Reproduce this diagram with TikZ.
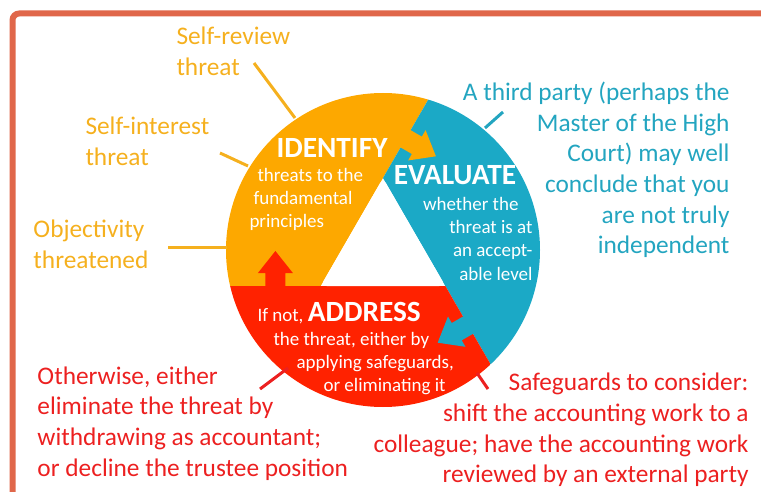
\documentclass[tikz,border=0pt]{standalone}
\usepackage{fontspec}
\setmainfont{Carlito}

\definecolor{framered}{RGB}{224,103,74}
\definecolor{idorange}{RGB}{253,168,0}
\definecolor{evblue}{RGB}{27,169,198}
\definecolor{adred}{RGB}{255,34,0}
\definecolor{idyellow}{RGB}{245,176,30}
\definecolor{evteal}{RGB}{35,165,192}
\definecolor{adcrimson}{RGB}{236,32,32}

\tikzset{every picture/.style={line width=0.75pt}}

\begin{document}
\begin{tikzpicture}[x=0.75pt,y=0.75pt,yscale=-1,xscale=1,
  outer/.style={inner sep=0pt, font=\fontsize{19}{23}\selectfont},
  body/.style={inner sep=0pt, text=white, font=\fontsize{14.25}{17.5}\selectfont},
  head/.style={inner sep=0pt, text=white, font=\fontsize{22}{26}\selectfont\bfseries},
  leader/.style={line width=2.25pt}]
\useasboundingbox (0,0) rectangle (761,492);
\clip (0,0) rectangle (761,492);

%Shape: Frame
\draw [color=framered, line width=4.5pt, rounded corners=5pt] (12.5,13.5) rectangle (800,530);

%Shape: Cycle (three sectors, arrows, hole)
\begin{scope}[shift={(383,250)}, yscale=-1]
\clip (0,0) circle (157);
\foreach \col/\rot in {idorange/0, evblue/-120, adred/120} {
  \fill [\col, rotate=\rot] (90:72) -- ++(60:200) -- (-262,245.2) -- (-262,-36) -- (210:72) -- cycle;
}
\foreach \col/\rot in {idorange/0, evblue/-120, adred/120} {
  \fill [\col, rotate=\rot, shift={(22.6,111.2)}, rotate=-30]
    (-3,10) -- (13,10) -- (13,17.5) -- (35,0) -- (13,-17.5) -- (13,-10) -- (-3,-10) -- cycle;
}
\fill [white, rounded corners=4.5pt] (90:72) -- (210:72) -- (330:72) -- cycle;
\end{scope}

% Text Node
\draw (332,147.5) node (identify) [head] {IDENTIFY};
% Text Node
\draw (249,199.5) node (idbody) [body, anchor=west, align=left] {\hspace*{6pt}threats to the\\\hspace*{3pt}fundamental\\principles};
% Text Node
\draw (455,175.5) node (evaluate) [head] {EVALUATE};
% Text Node
\draw (533,238.5) node (evbody) [body, anchor=east, align=right] {whether the\hspace*{10.5pt}\\threat is at\hspace*{8.25pt}\\an accept-\hspace*{5.25pt}\\able level};
% Text Node
\draw (257,302) node (address) [body, anchor=north west, align=left] {If not, {\fontsize{22}{26}\selectfont\bfseries ADDRESS}\\\hspace*{12pt}the threat, either by\\\hspace*{29.25pt}applying safeguards,\\\hspace*{49.5pt}or eliminating it};

% Text Node
\draw (176,51) node (selfreview) [outer, anchor=west, align=left, text=idyellow] {Self-review\\threat};
% Text Node
\draw (85,141.5) node (selfinterest) [outer, anchor=west, align=left, text=idyellow] {Self-interest\\threat};
% Text Node
\draw (33,244.5) node (objectivity) [outer, anchor=west, align=left, text=idyellow] {Objectivity\\threatened};
% Text Node
\draw (730,170) node (thirdparty) [outer, anchor=east, align=right, text=evteal] {A third party (perhaps the\\Master of the High\\Court) may well\\conclude that you\\are not truly\\independent};
% Text Node
\draw (37,423.5) node (otherwise) [outer, anchor=west, align=left, text=adcrimson] {Otherwise, either\\eliminate the threat by\\withdrawing as accountant;\\or decline the trustee position};
% Text Node
\draw (749,430) node (safeguards) [outer, anchor=east, align=right, text=adcrimson] {Safeguards to consider:\\shift the accounting work to a\\colleague; have the accounting work\\reviewed by an external party};

%Straight Lines: leaders
\coordinate (srA) at (254,63);  \coordinate (srB) at (295,118);
\coordinate (siA) at (220,153); \coordinate (siB) at (248,166);
\coordinate (obA) at (168,247); \coordinate (obB) at (227,247);
\coordinate (tpA) at (503,112); \coordinate (tpB) at (485,128);
\coordinate (owA) at (260,389); \coordinate (owB) at (288,368);
\coordinate (sgA) at (488,389); \coordinate (sgB) at (477,373);
\draw [leader, color=idyellow] (srA) -- (srB);
\draw [leader, color=idyellow] (siA) -- (siB);
\draw [leader, color=idyellow] (obA) -- (obB);
\draw [leader, color=evteal] (tpA) -- (tpB);
\draw [leader, color=adcrimson] (owA) -- (owB);
\draw [leader, color=adcrimson] (sgA) -- (sgB);

\end{tikzpicture}
\end{document}
